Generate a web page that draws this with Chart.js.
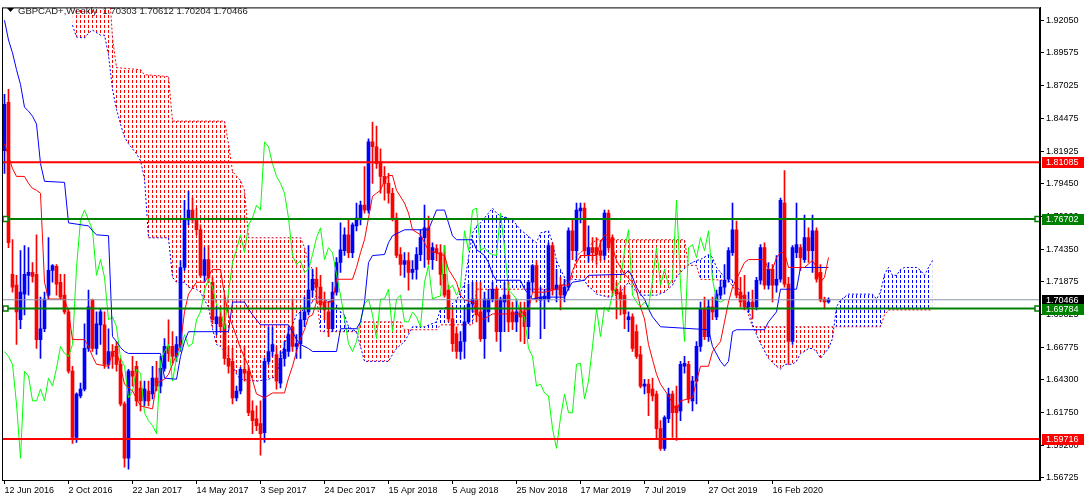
<!DOCTYPE html>
<html>
<head>
<meta charset="utf-8">
<script src="https://cdn.jsdelivr.net/npm/chart.js@4.4.0/dist/chart.umd.min.js"></script>
<style>
  html, body { margin: 0; padding: 0; background: #fff; }
  #wrap { width: 1086px; height: 501px; position: relative; }
</style>
</head>
<body>
<div id="wrap"><canvas id="myChart"></canvas></div>
<script>
/* GBPCAD+ weekly candles with Ichimoku, drawn MT4 style. */

const dateBars = [0, 16, 32, 48, 64, 80, 96, 112, 128, 144, 160, 176, 192];
const dateLabels = ["12 Jun 2016", "2 Oct 2016", "22 Jan 2017", "14 May 2017", "3 Sep 2017",
  "24 Dec 2017", "15 Apr 2018", "5 Aug 2018", "25 Nov 2018", "17 Mar 2019", "7 Jul 2019",
  "27 Oct 2019", "16 Feb 2020"];
const priceTicks = [1.92050, 1.89575, 1.87025, 1.84475, 1.81925, 1.79450, 1.76900, 1.74350,
  1.71875, 1.69325, 1.66775, 1.64300, 1.61750, 1.59200, 1.56725];

/* weekly OHLC, bar 0 = week of 12 Jun 2016 */
const openP = [
  1.8197, 1.8571, 1.7243, 1.7159, 1.6892, 1.7090, 1.7235, 1.7258, 1.7243, 1.6739,
  1.6823, 1.7082, 1.7273, 1.7304, 1.7182, 1.7082, 1.6953, 1.6495, 1.5983, 1.6304,
  1.6357, 1.6671, 1.7044, 1.6671, 1.6853, 1.6853, 1.6548, 1.6647, 1.6686, 1.6548,
  1.6242, 1.5823, 1.6495, 1.6533, 1.6365, 1.6266, 1.6342, 1.6319, 1.6441, 1.6380,
  1.6517, 1.6686, 1.6686, 1.6609, 1.6686, 1.7296, 1.7663, 1.7739, 1.7663, 1.7587,
  1.7235, 1.7357, 1.7182, 1.6861, 1.6914, 1.6861, 1.6594, 1.6571, 1.6289, 1.6342,
  1.6510, 1.6495, 1.6189, 1.6128, 1.6090, 1.6021, 1.6571, 1.6647, 1.6624, 1.6403,
  1.6594, 1.6647, 1.6838, 1.6686, 1.6708, 1.6892, 1.6953, 1.7121, 1.7205, 1.7144,
  1.7029, 1.6953, 1.6823, 1.7105, 1.7334, 1.7426, 1.7548, 1.7411, 1.7617, 1.7678,
  1.7777, 1.7739, 1.8266, 1.8228, 1.8113, 1.7999, 1.7945, 1.7869, 1.7678, 1.7395,
  1.7319, 1.7349, 1.7258, 1.7281, 1.7395, 1.7526, 1.7602, 1.7357, 1.7441, 1.7411,
  1.7243, 1.7121, 1.6899, 1.6785, 1.6647, 1.6724, 1.6876, 1.7014, 1.7052, 1.6953,
  1.6747, 1.6953, 1.7052, 1.7128, 1.6800, 1.7029, 1.7082, 1.6953, 1.6876, 1.6968,
  1.6953, 1.6838, 1.7182, 1.7311, 1.7044, 1.7052, 1.7052, 1.7464, 1.7128, 1.7159,
  1.7082, 1.7144, 1.7579, 1.7426, 1.7732, 1.7754, 1.7395, 1.7449, 1.7449, 1.7426,
  1.7388, 1.7716, 1.7526, 1.7128, 1.7105, 1.7082, 1.6892, 1.6914, 1.6800, 1.6624,
  1.6380, 1.6395, 1.6357, 1.6319, 1.6052, 1.5899, 1.6128, 1.6319, 1.6227, 1.6189,
  1.6533, 1.6548, 1.6266, 1.6418, 1.6686, 1.6976, 1.6762, 1.6991, 1.6914, 1.7082,
  1.7144, 1.7205, 1.7411, 1.7587, 1.7105, 1.7082, 1.6991, 1.7029, 1.6991, 1.7197,
  1.7449, 1.7159, 1.7281, 1.7159, 1.7205, 1.7793, 1.7167, 1.6724, 1.7411, 1.7449,
  1.7357, 1.7526, 1.7426, 1.7579, 1.7258, 1.7052, 1.70303
];
const highP = [
  1.8632, 1.8671, 1.7511, 1.7235, 1.7426, 1.7464, 1.7449, 1.7334, 1.7548, 1.7067,
  1.7105, 1.7526, 1.7319, 1.7319, 1.7243, 1.7243, 1.6976, 1.6533, 1.6327, 1.6403,
  1.6861, 1.7121, 1.7052, 1.6953, 1.6976, 1.6953, 1.6823, 1.6701, 1.6724, 1.6594,
  1.6258, 1.6510, 1.6609, 1.6571, 1.6418, 1.6418, 1.6418, 1.6533, 1.6571, 1.6609,
  1.6747, 1.6892, 1.6800, 1.6762, 1.7349, 1.7815, 1.7884, 1.7831, 1.7754, 1.7625,
  1.7449, 1.7464, 1.7220, 1.6991, 1.6991, 1.7082, 1.6686, 1.6671, 1.6380, 1.6525,
  1.6686, 1.6533, 1.6266, 1.6227, 1.6266, 1.6594, 1.6838, 1.6838, 1.6686, 1.6647,
  1.6724, 1.6838, 1.7052, 1.6777, 1.6953, 1.7067, 1.7464, 1.7281, 1.7296, 1.7235,
  1.7105, 1.7029, 1.7182, 1.7372, 1.7640, 1.7602, 1.7663, 1.7640, 1.7793, 1.7808,
  1.8075, 1.8289, 1.8418, 1.8388, 1.8213, 1.8075, 1.8022, 1.7907, 1.7716, 1.7449,
  1.7411, 1.7411, 1.7349, 1.7449, 1.7587, 1.7777, 1.7693, 1.7487, 1.7472, 1.7472,
  1.7464, 1.7159, 1.6991, 1.6838, 1.6800, 1.6991, 1.7167, 1.7182, 1.7182, 1.7182,
  1.7105, 1.7128, 1.7182, 1.7144, 1.7067, 1.7182, 1.7182, 1.7029, 1.7052, 1.7029,
  1.7029, 1.7197, 1.7319, 1.7349, 1.7144, 1.7128, 1.7487, 1.7487, 1.7281, 1.7220,
  1.7205, 1.7602, 1.7663, 1.7793, 1.7793, 1.7793, 1.7617, 1.7526, 1.7526, 1.7503,
  1.7739, 1.7739, 1.7548, 1.7182, 1.7144, 1.7144, 1.6953, 1.6937, 1.6853, 1.6686,
  1.6433, 1.6433, 1.6441, 1.6342, 1.6113, 1.6151, 1.6365, 1.6342, 1.6380, 1.6571,
  1.6609, 1.6571, 1.6456, 1.6724, 1.7029, 1.7067, 1.7044, 1.7067, 1.7121, 1.7197,
  1.7319, 1.7449, 1.7793, 1.7655, 1.7220, 1.7235, 1.7105, 1.7121, 1.7220, 1.7472,
  1.7487, 1.7334, 1.7319, 1.7388, 1.7831, 1.8045, 1.7220, 1.7464, 1.7793, 1.7472,
  1.7701, 1.7602, 1.7701, 1.7602, 1.7319, 1.7067, 1.70612
];
const lowP = [
  1.8022, 1.7449, 1.7105, 1.6701, 1.6823, 1.6930, 1.7082, 1.7182, 1.6671, 1.6594,
  1.6800, 1.7052, 1.7182, 1.7082, 1.7052, 1.6937, 1.6479, 1.5937, 1.5945, 1.6289,
  1.6342, 1.6647, 1.6647, 1.6624, 1.6701, 1.6517, 1.6517, 1.6517, 1.6495, 1.6227,
  1.5754, 1.5739, 1.6380, 1.6227, 1.6189, 1.6227, 1.6227, 1.6281, 1.6342, 1.6327,
  1.6495, 1.6571, 1.6556, 1.6571, 1.6647, 1.7273, 1.7625, 1.7640, 1.7548, 1.7220,
  1.7182, 1.7182, 1.6861, 1.6777, 1.6800, 1.6548, 1.6479, 1.6242, 1.6266, 1.6319,
  1.6418, 1.6151, 1.6013, 1.6036, 1.5846, 1.5945, 1.6548, 1.6609, 1.6357, 1.6365,
  1.6533, 1.6609, 1.6647, 1.6594, 1.6594, 1.6838, 1.6930, 1.7067, 1.7029, 1.6968,
  1.6892, 1.6762, 1.6800, 1.7082, 1.7258, 1.7388, 1.7372, 1.7372, 1.7579, 1.7625,
  1.7716, 1.7716, 1.7945, 1.8060, 1.7869, 1.7815, 1.7793, 1.7655, 1.7372, 1.7235,
  1.7220, 1.7121, 1.7205, 1.7205, 1.7349, 1.7296, 1.7319, 1.7281, 1.7349, 1.7159,
  1.7067, 1.6876, 1.6647, 1.6594, 1.6586, 1.6594, 1.6861, 1.6953, 1.6876, 1.6724,
  1.6594, 1.6876, 1.7029, 1.6724, 1.6647, 1.6800, 1.6800, 1.6815, 1.6800, 1.6724,
  1.6708, 1.6747, 1.7105, 1.7029, 1.6747, 1.6823, 1.7029, 1.7082, 1.7029, 1.6968,
  1.7029, 1.7121, 1.7357, 1.7357, 1.7640, 1.7395, 1.7334, 1.7349, 1.7319, 1.7349,
  1.7357, 1.7426, 1.7082, 1.6899, 1.6930, 1.6823, 1.6800, 1.6647, 1.6594, 1.6365,
  1.6319, 1.6151, 1.6266, 1.5975, 1.5884, 1.5884, 1.6098, 1.5983, 1.5960, 1.6113,
  1.6479, 1.6250, 1.6189, 1.6242, 1.6647, 1.6739, 1.6724, 1.6892, 1.6892, 1.7052,
  1.7090, 1.7182, 1.7388, 1.7060, 1.6991, 1.6968, 1.6968, 1.6899, 1.6968, 1.7167,
  1.7128, 1.7128, 1.7029, 1.7105, 1.7182, 1.7144, 1.6548, 1.6701, 1.7372, 1.7273,
  1.7334, 1.7334, 1.7258, 1.7182, 1.7029, 1.6976, 1.70204
];
const closeP = [
  1.8556, 1.7487, 1.7144, 1.6953, 1.7105, 1.7243, 1.7258, 1.7227, 1.6739, 1.6823,
  1.7052, 1.7273, 1.7311, 1.7167, 1.7067, 1.6953, 1.6495, 1.5983, 1.6319, 1.6357,
  1.6671, 1.6991, 1.6671, 1.6861, 1.6953, 1.6548, 1.6647, 1.6609, 1.6548, 1.6242,
  1.5823, 1.6495, 1.6457, 1.6266, 1.6266, 1.6357, 1.6266, 1.6441, 1.6380, 1.6517,
  1.6686, 1.6632, 1.6609, 1.6701, 1.7296, 1.7663, 1.7739, 1.7663, 1.7587, 1.7235,
  1.7357, 1.7220, 1.6892, 1.6914, 1.6838, 1.6594, 1.6533, 1.6289, 1.6342, 1.6510,
  1.6479, 1.6174, 1.6113, 1.6075, 1.6013, 1.6571, 1.6647, 1.6701, 1.6418, 1.6594,
  1.6663, 1.6777, 1.6686, 1.6708, 1.6892, 1.6953, 1.7121, 1.7205, 1.7144, 1.7006,
  1.6968, 1.6823, 1.7105, 1.7334, 1.7433, 1.7548, 1.7411, 1.7625, 1.7678, 1.7777,
  1.7739, 1.8266, 1.8228, 1.8098, 1.7999, 1.7945, 1.7869, 1.7678, 1.7388, 1.7319,
  1.7349, 1.7258, 1.7281, 1.7395, 1.7526, 1.7602, 1.7357, 1.7449, 1.7411, 1.7243,
  1.7082, 1.6899, 1.6708, 1.6647, 1.6724, 1.6876, 1.7014, 1.7052, 1.6930, 1.6747,
  1.7052, 1.7052, 1.7128, 1.6800, 1.7052, 1.7082, 1.6876, 1.6876, 1.6953, 1.6914,
  1.6838, 1.7182, 1.7311, 1.7052, 1.7067, 1.7075, 1.7464, 1.7128, 1.7159, 1.7082,
  1.7144, 1.7579, 1.7426, 1.7739, 1.7754, 1.7426, 1.7449, 1.7411, 1.7395, 1.7388,
  1.7716, 1.7449, 1.7121, 1.7090, 1.7052, 1.6937, 1.6914, 1.6671, 1.6609, 1.6380,
  1.6395, 1.6327, 1.6304, 1.6052, 1.5899, 1.6136, 1.6319, 1.6174, 1.6174, 1.6548,
  1.6556, 1.6281, 1.6418, 1.6686, 1.6976, 1.6762, 1.6991, 1.6953, 1.7090, 1.7144,
  1.7197, 1.7426, 1.7587, 1.7082, 1.7029, 1.6991, 1.7029, 1.6991, 1.7197, 1.7449,
  1.7159, 1.7281, 1.7159, 1.7205, 1.7815, 1.7167, 1.6724, 1.7449, 1.7472, 1.7372,
  1.7526, 1.7426, 1.7579, 1.7205, 1.7044, 1.7029, 1.70466
];

/* Ichimoku lines as [bar, price] */
const tenkan = [[0,1.8251],[2,1.8060],[3,1.7999],[5,1.7999],[6,1.7945],[7,1.7907],[8,1.7892],[9,1.7869],
  [10,1.7182],[11,1.7052],[15,1.7052],[16,1.6953],[17,1.6739],[20,1.6739],[21,1.6686],[22,1.6609],
  [23,1.6548],[26,1.6533],[27,1.6647],[28,1.6647],[29,1.6533],[30,1.6395],[32,1.6342],[34,1.6227],
  [37,1.6204],[38,1.6403],[40,1.6433],[41,1.6471],[44,1.6701],[45,1.6953],[46,1.7090],[48,1.7182],
  [50,1.7182],[52,1.7281],[54,1.7281],[55,1.7082],[56,1.6930],[58,1.6762],[59,1.6671],[61,1.6533],
  [63,1.6319],[65,1.6289],[67,1.6327],[70,1.6327],[71,1.6441],[72,1.6533],[73,1.6647],[74,1.6747],
  [75,1.6815],[76,1.6914],[77,1.6930],[78,1.7029],[82,1.7029],[83,1.7205],[87,1.7205],[88,1.7296],
  [89,1.7411],[90,1.7510],[91,1.7678],[92,1.7846],[93,1.7869],[94,1.7892],[95,1.7968],[96,1.8006],
  [97,1.8006],[98,1.7892],[100,1.7793],[101,1.7716],[102,1.7587],[104,1.7548],[105,1.7487],[106,1.7426],
  [110,1.7388],[111,1.7281],[113,1.7182],[114,1.7082],[115,1.7044],[117,1.7029],[118,1.6953],[119,1.6899],
  [120,1.6899],[122,1.6937],[129,1.6937],[130,1.6968],[131,1.6968],[132,1.7105],[135,1.7105],[138,1.7128],
  [139,1.7159],[141,1.7159],[142,1.7273],[144,1.7388],[148,1.7388],[149,1.7487],[150,1.7548],[151,1.7548],
  [152,1.7449],[153,1.7350],[154,1.7296],[155,1.7243],[157,1.7182],[158,1.7121],[159,1.6991],[160,1.6899],
  [161,1.6701],[162,1.6586],[163,1.6472],[164,1.6395],[166,1.6304],[168,1.6189],[169,1.6266],[172,1.6289],
  [173,1.6418],[174,1.6533],[176,1.6533],[177,1.6647],[179,1.6724],[180,1.6876],[181,1.7029],[182,1.7144],
  [183,1.7205],[185,1.7334],[186,1.7357],[190,1.7357],[191,1.7281],[192,1.7281],[193,1.7373],[194,1.7411],
  [195,1.7411],[196,1.7296],[200,1.7296],[202,1.7350],[203,1.7296],[204,1.7182],[205,1.7220],[206,1.7373]];

const kijun = [[0,1.9205],[1,1.9052],[2,1.8953],[3,1.8823],[4,1.8709],[5,1.8533],[6,1.8503],[7,1.8464],
  [8,1.8403],[9,1.8098],[10,1.7961],[15,1.7953],[16,1.7640],[21,1.7617],[22,1.7579],[23,1.7548],
  [26,1.7541],[27,1.6762],[28,1.6724],[29,1.6678],[30,1.6647],[31,1.6632],[39,1.6632],[40,1.6441],
  [43,1.6433],[44,1.6609],[45,1.6724],[46,1.6800],[56,1.6800],[57,1.7029],[60,1.7029],[61,1.6976],
  [62,1.6930],[64,1.6853],[71,1.6853],[72,1.6800],[73,1.6739],[74,1.6701],[76,1.6670],[77,1.6647],
  [83,1.6647],[84,1.6823],[88,1.6823],[89,1.6876],[90,1.7029],[91,1.7334],[92,1.7388],[95,1.7396],
  [96,1.7487],[97,1.7541],[100,1.7587],[106,1.7587],[107,1.7663],[108,1.7739],[110,1.7739],[111,1.7640],
  [112,1.7541],[113,1.7510],[117,1.7510],[118,1.7434],[120,1.7388],[121,1.7334],[122,1.7243],[123,1.7197],
  [129,1.7197],[130,1.7128],[132,1.7052],[134,1.7067],[140,1.7067],[141,1.7136],[142,1.7182],[145,1.7197],
  [146,1.7235],[155,1.7243],[156,1.7273],[157,1.7220],[158,1.7144],[159,1.7090],[160,1.7052],[161,1.6976],
  [162,1.6915],[164,1.6838],[176,1.6815],[177,1.6686],[179,1.6571],[180,1.6533],[181,1.6571],[182,1.6800],
  [183,1.6815],[190,1.6815],[191,1.6876],[193,1.6953],[194,1.7128],[198,1.7128],[199,1.7296],[206,1.7296]];

const spanA = [[17,1.9167],[18,1.9075],[20,1.9068],[21,1.9106],[22,1.9129],[24,1.9090],[25,1.9090],
  [26,1.8938],[27,1.8671],[28,1.8518],[29,1.8403],[30,1.8304],[31,1.8251],[32,1.8212],[33,1.8174],
  [34,1.8121],[35,1.7983],[36,1.7525],[41,1.7525],[42,1.7220],[43,1.7182],[45,1.7182],[46,1.7144],
  [48,1.7128],[49,1.7105],[50,1.7044],[51,1.6991],[52,1.6823],[53,1.6701],[54,1.6686],[55,1.6647],
  [56,1.6609],[57,1.6548],[58,1.6472],[59,1.6433],[63,1.6418],[66,1.6433],[68,1.6456],[69,1.6594],
  [71,1.6800],[72,1.6853],[73,1.6930],[75,1.6976],[77,1.7029],[78,1.7082],[79,1.7052],[82,1.7029],
  [83,1.7006],[84,1.6953],[85,1.6930],[86,1.6838],[88,1.6800],[89,1.6686],[90,1.6571],[96,1.6571],
  [97,1.6624],[98,1.6670],[100,1.6724],[101,1.6777],[102,1.6838],[105,1.6838],[108,1.6876],[109,1.6976],
  [111,1.6991],[113,1.7044],[114,1.7105],[115,1.7166],[116,1.7373],[117,1.7563],[118,1.7617],[119,1.7640],
  [120,1.7678],[121,1.7716],[122,1.7754],[123,1.7716],[124,1.7693],[126,1.7678],[127,1.7663],[129,1.7587],
  [130,1.7563],[132,1.7510],[133,1.7487],[134,1.7563],[136,1.7579],[137,1.7487],[138,1.7350],[139,1.7281],
  [140,1.7220],[142,1.7205],[145,1.7197],[146,1.7144],[147,1.7128],[148,1.7090],[151,1.7067],[153,1.7082],
  [154,1.7105],[155,1.7144],[156,1.7182],[158,1.7105],[159,1.7082],[163,1.7082],[165,1.7105],[167,1.7159],
  [168,1.7220],[169,1.7258],[171,1.7319],[173,1.7350],[174,1.7357],[176,1.7396],[177,1.7373],[178,1.7296],
  [179,1.7258],[180,1.7220],[182,1.7197],[183,1.7166],[184,1.7105],[185,1.7029],[186,1.6976],[187,1.6861],
  [188,1.6777],[189,1.6708],[191,1.6594],[193,1.6533],[194,1.6510],[195,1.6548],[197,1.6548],[198,1.6571],
  [199,1.6632],[200,1.6647],[201,1.6670],[202,1.6670],[203,1.6647],[204,1.6594],[205,1.6632],[206,1.6670],
  [207,1.6747],[208,1.6991],[209,1.7044],[211,1.7090],[217,1.7090],[218,1.7052],[219,1.7105],[220,1.7243],
  [221,1.7296],[222,1.7235],[223,1.7235],[224,1.7281],[225,1.7296],[228,1.7296],[229,1.7273],[230,1.7235],
  [231,1.7296],[232,1.7350]];

const spanB = [[17,1.9549],[26,1.9549],[27,1.9068],[28,1.8839],[34,1.8823],[35,1.8785],[41,1.8770],
  [42,1.8426],[55,1.8426],[56,1.8251],[57,1.8037],[59,1.7968],[60,1.7892],[61,1.7525],[74,1.7525],
  [75,1.7449],[76,1.7334],[77,1.7281],[78,1.7082],[79,1.6800],[88,1.6800],[89,1.6876],[99,1.6876],
  [100,1.6815],[108,1.6815],[109,1.6853],[117,1.6853],[118,1.7128],[139,1.7128],[140,1.7182],[142,1.7235],
  [143,1.7388],[145,1.7434],[148,1.7510],[170,1.7510],[171,1.7312],[173,1.7312],[174,1.7205],[181,1.7197],
  [183,1.7105],[185,1.7029],[186,1.6930],[187,1.6838],[219,1.6838],[220,1.6930],[221,1.6968],[232,1.6968]];

/* horizontal levels and price tags */
const levelPrices = [1.81085, 1.76702, 1.69784, 1.59716];
const levelColors = ["#ff0000", "#008000", "#008000", "#ff0000"];
const bidPrice = 1.70466;
const tagPrices = [1.81085, 1.76702, 1.70466, 1.69784, 1.59716];
const tagColors = ["#ff0000", "#008000", "#000000", "#008000", "#ff0000"];
const header = "GBPCAD+,Weekly  1.70303 1.70612 1.70204 1.70466";

const X_MIN = -0.625, X_MAX = 258.875;
const FONT = "'Liberation Sans', Arial, sans-serif";

const pairs = (arr) => arr.map((p) => ({ x: p[0], y: p[1] }));

function hatch(ctx, color) {
  const tile = document.createElement("canvas");
  tile.width = 4;
  tile.height = 5;
  const g = tile.getContext("2d");
  g.fillStyle = color;
  g.fillRect(0, 0, 1, 3);
  return ctx.createPattern(tile, "repeat");
}

const candleColor = (c) => (closeP[c.dataIndex] >= openP[c.dataIndex] ? "#0000ff" : "#ff0000");

const overlay = {
  id: "overlay",
  afterDraw(chart) {
    const g = chart.ctx;
    const a = chart.chartArea;
    const ys = chart.scales.y;
    g.save();
    /* frame */
    g.strokeStyle = "#000";
    g.lineWidth = 1;
    g.strokeRect(a.left + 0.5, a.top + 0.5, a.right - a.left - 1, a.bottom - a.top);
    /* price tags on the axis */
    g.font = "9px " + FONT;
    g.textBaseline = "middle";
    g.textAlign = "left";
    for (let k = 0; k < tagPrices.length; k++) {
      const y = Math.round(ys.getPixelForValue(tagPrices[k]));
      g.fillStyle = tagColors[k];
      g.fillRect(a.right + 2, y - 5, 42, 11);
      g.fillStyle = "#fff";
      g.fillText(tagPrices[k].toFixed(5), a.right + 6, y + 0.5);
    }
    /* header */
    g.fillStyle = "#000";
    g.beginPath();
    g.moveTo(7, 8);
    g.lineTo(14, 8);
    g.lineTo(10.5, 12);
    g.closePath();
    g.fill();
    g.font = "9.5px " + FONT;
    g.fillStyle = "#1a1a1a";
    g.fillText(header, 18, 11);
    g.restore();
  },
};

function levelDataset(price, color, markers) {
  return {
    type: "line",
    data: [{ x: X_MIN, y: price }, { x: 0.25, y: price }, { x: 258.25, y: price }, { x: X_MAX, y: price }],
    borderColor: color,
    borderWidth: 2,
    pointStyle: "rect",
    pointRadius: (c) => (markers && (c.dataIndex === 1 || c.dataIndex === 2) ? 3.5 : 0),
    pointBackgroundColor: "#fff",
    pointBorderColor: color,
    pointBorderWidth: 1.5,
    order: 0,
  };
}

function init() {
  const canvas = document.getElementById("myChart");
  const ctx = canvas.getContext("2d");

  const datasets = [];
  for (let k = 0; k < levelPrices.length; k++) {
    datasets.push(levelDataset(levelPrices[k], levelColors[k], levelColors[k] === "#008000"));
  }
  datasets.push({
    type: "line",
    data: [{ x: X_MIN, y: bidPrice }, { x: X_MAX, y: bidPrice }],
    borderColor: "#8a93a6",
    borderWidth: 1,
    pointRadius: 0,
    order: 0,
  });
  /* tenkan, kijun, chikou */
  datasets.push({ type: "line", data: pairs(tenkan), borderColor: "#ff0000", borderWidth: 1, pointRadius: 0, order: 1 });
  datasets.push({ type: "line", data: pairs(kijun), borderColor: "#0000ff", borderWidth: 1, pointRadius: 0, order: 1 });
  /* chikou = close plotted 26 weeks back */
  datasets.push({
    type: "line",
    data: closeP.slice(26).map((c, k) => ({ x: k, y: c })),
    borderColor: "#00ff00",
    borderWidth: 1,
    pointRadius: 0,
    order: 1,
  });
  /* candles: wick + body */
  datasets.push({
    type: "bar",
    data: lowP.map((l, i) => ({ x: i, y: [l, highP[i]] })),
    backgroundColor: candleColor,
    barThickness: 1,
    grouped: false,
    order: 2,
  });
  datasets.push({
    type: "bar",
    data: openP.map((o, i) => ({ x: i, y: [o, closeP[i]] })),
    backgroundColor: candleColor,
    barThickness: 3,
    minBarLength: 1,
    grouped: false,
    order: 2,
  });
  /* kumo */
  datasets.push({
    type: "line",
    data: pairs(spanA),
    borderColor: "#0000ff",
    borderWidth: 1,
    borderDash: [2, 2],
    pointRadius: 0,
    fill: { target: "+1", above: hatch(ctx, "#0000ff"), below: hatch(ctx, "#ff0000") },
    order: 3,
  });
  datasets.push({
    type: "line",
    data: pairs(spanB),
    borderColor: "#ff0000",
    borderWidth: 1,
    borderDash: [2, 2],
    pointRadius: 0,
    order: 3,
  });

  Chart.defaults.font.family = FONT;
  Chart.defaults.font.size = 9;
  Chart.defaults.color = "#000";

  return new Chart(canvas, {
    data: { datasets: datasets },
    options: {
      responsive: true,
      maintainAspectRatio: false,
      animation: false,
      events: [],
      layout: { padding: { left: 2, top: 2, right: 0, bottom: 0 } },
      plugins: { legend: { display: false }, tooltip: { enabled: false } },
      elements: { line: { tension: 0 } },
      scales: {
        x: {
          type: "linear",
          min: X_MIN,
          max: X_MAX,
          offset: false,
          afterBuildTicks: (s) => { s.ticks = dateBars.map((v) => ({ value: v })); },
          afterFit: (s) => { s.height = 21; },
          ticks: {
            autoSkip: false,
            maxRotation: 0,
            align: "start",
            padding: 1,
            color: "#000",
            callback: (v) => dateLabels[dateBars.indexOf(v)],
          },
          grid: { drawOnChartArea: false, drawTicks: true, tickLength: 4, color: "#000", offset: false },
          border: { display: true, color: "#000", width: 1 },
        },
        y: {
          type: "linear",
          position: "right",
          min: 1.56547,
          max: 1.93042,
          afterBuildTicks: (s) => { s.ticks = priceTicks.map((v) => ({ value: v })); },
          afterFit: (s) => { s.width = 46; },
          ticks: { autoSkip: false, padding: 2, color: "#000", callback: (v) => v.toFixed(5) },
          grid: { drawOnChartArea: false, drawTicks: true, tickLength: 4, color: "#000" },
          border: { display: true, color: "#000", width: 1 },
        },
      },
    },
    plugins: [overlay],
  });
}

init();
</script>
</body>
</html>
